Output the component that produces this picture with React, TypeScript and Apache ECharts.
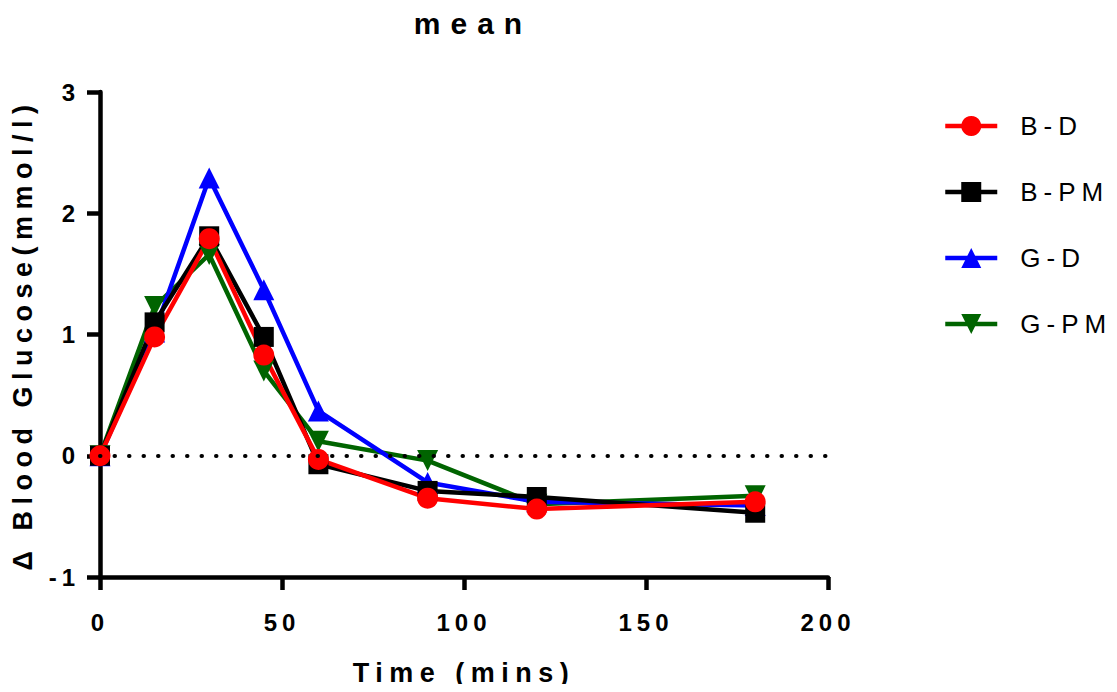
import React, { useEffect, useRef } from "react";
import * as echarts from "echarts";

const times = [0, 15, 30, 45, 60, 90, 120, 180];
const bD = [0, 0.98, 1.79, 0.83, -0.03, -0.35, -0.44, -0.38];
const bPM = [0, 1.1, 1.81, 0.98, -0.07, -0.29, -0.34, -0.47];
const gD = [0, 1.02, 2.29, 1.37, 0.37, -0.22, -0.38, -0.41];
const gPM = [0, 1.23, 1.66, 0.7, 0.12, -0.04, -0.4, -0.33];
const xTicks = [0, 50, 100, 150, 200];
const yTicks = [-1, 0, 1, 2, 3];

const FONT = "Liberation Sans, Arial, sans-serif";

const css = `
#chart text[style*="30px"] { letter-spacing: 10px; }
#chart text[style*="27px"] { letter-spacing: 6.5px; }
#chart text[style*="24px"] { letter-spacing: 5px; }
#chart text[style*="26px"] { letter-spacing: 6px; }
`;

function pairs(vals: number[]) {
  return times.map((t, i) => [t, vals[i]]);
}

export default function App() {
  const ref = useRef<HTMLDivElement>(null);
  useEffect(() => {
    if (!ref.current) return;
    const chart = echarts.init(ref.current, null, { renderer: "svg" });
    const mk = (name: string, vals: number[], color: string, symbol: string, size: number, extra: any = {}) => ({
      name,
      type: "line",
      data: pairs(vals),
      symbol,
      symbolSize: size,
      itemStyle: { color },
      lineStyle: { color, width: 4.5 },
      emphasis: { disabled: true },
      ...extra,
    });
    const axisCommon = {
      nameLocation: "middle",
      nameTextStyle: { fontFamily: FONT, fontWeight: "bold", fontSize: 27, color: "#000" },
      axisLine: { onZero: false, lineStyle: { color: "#000", width: 4.5 } },
      axisTick: { show: true, length: 13, lineStyle: { color: "#000", width: 4.5 } },
      splitLine: { show: false },
    };
    chart.setOption({
      animation: false,
      backgroundColor: "#fff",
      title: {
        text: "mean",
        left: 468,
        top: 3,
        textAlign: "center",
        textStyle: { fontFamily: FONT, fontWeight: "bold", fontSize: 30, color: "#000" },
      },
      legend: {
        orient: "vertical",
        left: 938,
        top: 108,
        itemWidth: 52,
        itemHeight: 25,
        itemGap: 40,
        data: ["B-D", "B-PM", "G-D", "G-PM"],
        lineStyle: { width: 4.5 },
        textStyle: { fontFamily: FONT, fontSize: 26, lineHeight: 22, color: "#000", padding: [0, 0, 0, 18] },
      },
      grid: { left: 100, right: 289, top: 92, bottom: 115, containLabel: false },
      xAxis: {
        ...axisCommon,
        type: "value",
        min: xTicks[0],
        max: xTicks[xTicks.length - 1],
        interval: 50,
        name: "Time (mins)",
        nameGap: 82,
        axisLabel: { fontFamily: FONT, fontWeight: "bold", fontSize: 24, color: "#000", margin: 33 },
      },
      yAxis: {
        ...axisCommon,
        type: "value",
        min: yTicks[0],
        max: yTicks[yTicks.length - 1],
        interval: 1,
        name: "\u0394 Blood Glucose(mmol/l)",
        nameRotate: 90,
        nameGap: 64,
        axisLabel: { fontFamily: FONT, fontWeight: "bold", fontSize: 24, color: "#000", margin: 20 },
      },
      series: [
        mk("G-PM", gPM, "#006400", "triangle", 21, { symbolRotate: 180 }),
        mk("G-D", gD, "#0000ff", "triangle", 21),
        mk("B-PM", bPM, "#000000", "rect", 20),
        mk("B-D", bD, "#ff0000", "circle", 21, {
          markLine: {
            silent: true,
            symbol: "none",
            label: { show: false },
            lineStyle: { color: "#000", width: 4, type: [0.5, 14], cap: "round" },
            data: [{ yAxis: 0 }],
          },
        }),
      ],
    });
    return () => chart.dispose();
  }, []);
  return (
    <>
      <style>{css}</style>
      <div id="chart" ref={ref} style={{ width: 1117, height: 692, margin: -8 }} />
    </>
  );
}
